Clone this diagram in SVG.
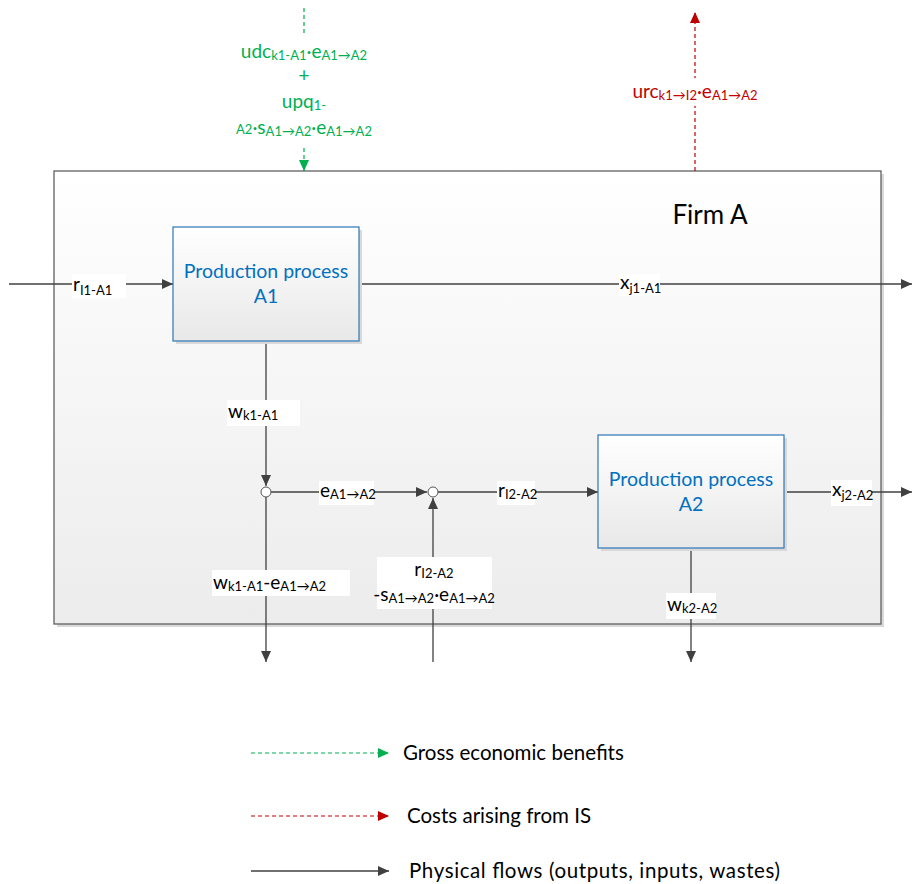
<svg xmlns="http://www.w3.org/2000/svg" width="912" height="884" viewBox="0 0 912 884">
  <style>
    .txt { font-family: "Lato", "Open Sans", "Liberation Sans", sans-serif; }
    .lbl { font-family: "Lato", "Open Sans", "Liberation Sans", sans-serif; font-size: 19px; fill: #000; }
    .sub { font-size: 13px; }
    .flow { stroke: #404040; stroke-width: 1.3; fill: none; }
    .green { stroke: #00b050; stroke-width: 1.2; stroke-dasharray: 4 3; fill: none; }
    .red { stroke: #c00000; stroke-width: 1.2; stroke-dasharray: 4 3; fill: none; }
    .proc { fill: url(#procGrad); stroke: #2e75b6; stroke-width: 1.2; }
    .proctxt { font-family: "Lato", "Open Sans", "Liberation Sans", sans-serif; font-size: 19.5px; fill: #0070c0; }
    .bg { fill: #ffffff; }
    .node { fill: #ffffff; stroke: #555; stroke-width: 1; }
    .legtxt { font-family: "Lato", "Open Sans", "Liberation Sans", sans-serif; font-size: 20.5px; fill: #000; }
  </style>
  <defs>
    <linearGradient id="firmGrad" x1="0" y1="0" x2="0" y2="1">
      <stop offset="0" stop-color="#ffffff"/>
      <stop offset="1" stop-color="#ececec"/>
    </linearGradient>
    <linearGradient id="procGrad" x1="0" y1="0" x2="0" y2="1">
      <stop offset="0" stop-color="#ffffff"/>
      <stop offset="1" stop-color="#e8e8e8"/>
    </linearGradient>
    <marker id="ahBlack" markerUnits="userSpaceOnUse" markerWidth="12" markerHeight="12" viewBox="0 0 12 12" refX="11" refY="6" orient="auto">
      <path d="M0,1 L11,6 L0,11 Z" fill="#404040"/>
    </marker>
    <marker id="ahGreen" markerUnits="userSpaceOnUse" markerWidth="12" markerHeight="12" viewBox="0 0 12 12" refX="11" refY="6" orient="auto">
      <path d="M0,1 L11,6 L0,11 Z" fill="#00b050"/>
    </marker>
    <marker id="ahRed" markerUnits="userSpaceOnUse" markerWidth="12" markerHeight="12" viewBox="0 0 12 12" refX="11" refY="6" orient="auto">
      <path d="M0,1 L11,6 L0,11 Z" fill="#c00000"/>
    </marker>
  </defs>

  <!-- Firm A container -->
  <g id="firmA">
    <rect x="57" y="174" width="827" height="453" fill="#d9d9d9"/>
    <rect x="54" y="171" width="827" height="453" fill="url(#firmGrad)" stroke="#606060" stroke-width="1.3"/>
    <text class="txt" x="710" y="224" font-size="26" text-anchor="middle" fill="#000">Firm A</text>
  </g>

  <!-- Connectors -->
  <g id="connectors">
    <line class="flow" x1="9" y1="284" x2="173" y2="284" marker-end="url(#ahBlack)"/>
    <line class="flow" x1="359" y1="284" x2="912" y2="284" marker-end="url(#ahBlack)"/>
    <line class="flow" x1="266" y1="341" x2="266" y2="486" marker-end="url(#ahBlack)"/>
    <line class="flow" x1="266" y1="497" x2="266" y2="662" marker-end="url(#ahBlack)"/>
    <line class="flow" x1="271" y1="492" x2="427" y2="492" marker-end="url(#ahBlack)"/>
    <line class="flow" x1="438" y1="492" x2="598" y2="492" marker-end="url(#ahBlack)"/>
    <line class="flow" x1="433" y1="662" x2="433" y2="498" marker-end="url(#ahBlack)"/>
    <line class="flow" x1="784" y1="492" x2="912" y2="492" marker-end="url(#ahBlack)"/>
    <line class="flow" x1="691" y1="548" x2="691" y2="662" marker-end="url(#ahBlack)"/>
    <line class="green" x1="304" y1="8" x2="304" y2="171" marker-end="url(#ahGreen)"/>
    <line class="red" x1="695" y1="171" x2="695" y2="12" marker-end="url(#ahRed)"/>

    <!-- junction nodes -->
    <circle class="node" cx="266" cy="492" r="5"/>
    <circle class="node" cx="433" cy="492" r="5"/>

    <!-- flow labels -->
    <rect class="bg" x="72" y="274" width="54" height="24"/>
    <text class="lbl" x="73" y="291">r<tspan class="sub" dy="4">I1-A1</tspan></text>

    <rect class="bg" x="619" y="274" width="41" height="22"/>
    <text class="lbl" x="620" y="289">x<tspan class="sub" dy="4">j1-A1</tspan></text>

    <rect class="bg" x="227" y="400" width="73" height="26"/>
    <text class="lbl" x="228" y="418">w<tspan class="sub" dy="2">k1-A1</tspan></text>

    <rect class="bg" x="319" y="481" width="55" height="24"/>
    <text class="lbl" x="320" y="497">e<tspan class="sub" dy="2">A1→A2</tspan></text>

    <rect class="bg" x="497" y="481" width="38" height="24"/>
    <text class="lbl" x="498" y="497">r<tspan class="sub" dy="2">I2-A2</tspan></text>

    <rect class="bg" x="212" y="570" width="138" height="26"/>
    <text class="lbl" x="213" y="589">w<tspan class="sub" dy="2">k1-A1</tspan><tspan dy="-2">-e</tspan><tspan class="sub" dy="2">A1→A2</tspan></text>

    <rect class="bg" x="377" y="557" width="115" height="52"/>
    <text class="lbl" x="434" y="576" text-anchor="middle">r<tspan class="sub" dy="2">I2-A2</tspan></text>
    <text class="lbl" x="434" y="601" text-anchor="middle">-s<tspan class="sub" dy="2">A1→A2</tspan><tspan dy="-2">·e</tspan><tspan class="sub" dy="2">A1→A2</tspan></text>

    <rect class="bg" x="831" y="480" width="41" height="26"/>
    <text class="lbl" x="832" y="496">x<tspan class="sub" dy="4">j2-A2</tspan></text>

    <rect class="bg" x="666" y="593" width="50" height="26"/>
    <text class="lbl" x="667" y="611">w<tspan class="sub" dy="2">k2-A2</tspan></text>

    <!-- benefit / cost labels -->
    <rect class="bg" x="236" y="36" width="136" height="109"/>
    <g class="txt" fill="#00b050" font-size="19" text-anchor="middle">
      <text x="304" y="58">udc<tspan font-size="13" dy="2">k1-A1</tspan><tspan dy="-2">·e</tspan><tspan font-size="13" dy="2">A1→A2</tspan></text>
      <text x="304" y="82">+</text>
      <text x="304" y="108">upq<tspan font-size="13" dy="2">1-</tspan></text>
      <text x="304" y="134"><tspan font-size="13">A2</tspan>·s<tspan font-size="13" dy="2">A1→A2</tspan><tspan dy="-2">·e</tspan><tspan font-size="13" dy="2">A1→A2</tspan></text>
    </g>
    <rect class="bg" x="631" y="78" width="127" height="28"/>
    <text class="txt" x="695" y="98" fill="#c00000" font-size="19" text-anchor="middle">urc<tspan font-size="13" dy="2">k1→I2</tspan><tspan dy="-2">·e</tspan><tspan font-size="13" dy="2">A1→A2</tspan></text>
  </g>

  <!-- Production process A1 -->
  <g id="processA1">
    <rect x="176" y="230" width="186" height="114" fill="#d9d9d9"/>
    <rect class="proc" x="173" y="227" width="186" height="114"/>
    <text class="proctxt" x="266" y="278" text-anchor="middle">Production process</text>
    <text class="proctxt" x="266" y="303" text-anchor="middle">A1</text>
  </g>

  <!-- Production process A2 -->
  <g id="processA2">
    <rect x="601" y="438" width="186" height="113" fill="#d9d9d9"/>
    <rect class="proc" x="598" y="435" width="186" height="113"/>
    <text class="proctxt" x="691" y="486" text-anchor="middle">Production process</text>
    <text class="proctxt" x="691" y="511" text-anchor="middle">A2</text>
  </g>

  <!-- Legend -->
  <g id="legend">
    <line class="green" x1="251" y1="753" x2="389" y2="753" marker-end="url(#ahGreen)"/>
    <text class="legtxt" x="403" y="760">Gross economic benefits</text>
    <line class="red" x1="251" y1="816" x2="389" y2="816" marker-end="url(#ahRed)"/>
    <text class="legtxt" x="407" y="823">Costs arising from IS</text>
    <line class="flow" x1="251" y1="871" x2="389" y2="871" marker-end="url(#ahBlack)"/>
    <text class="legtxt" x="409" y="878" textLength="371" lengthAdjust="spacing">Physical flows (outputs, inputs, wastes)</text>
  </g>
</svg>
